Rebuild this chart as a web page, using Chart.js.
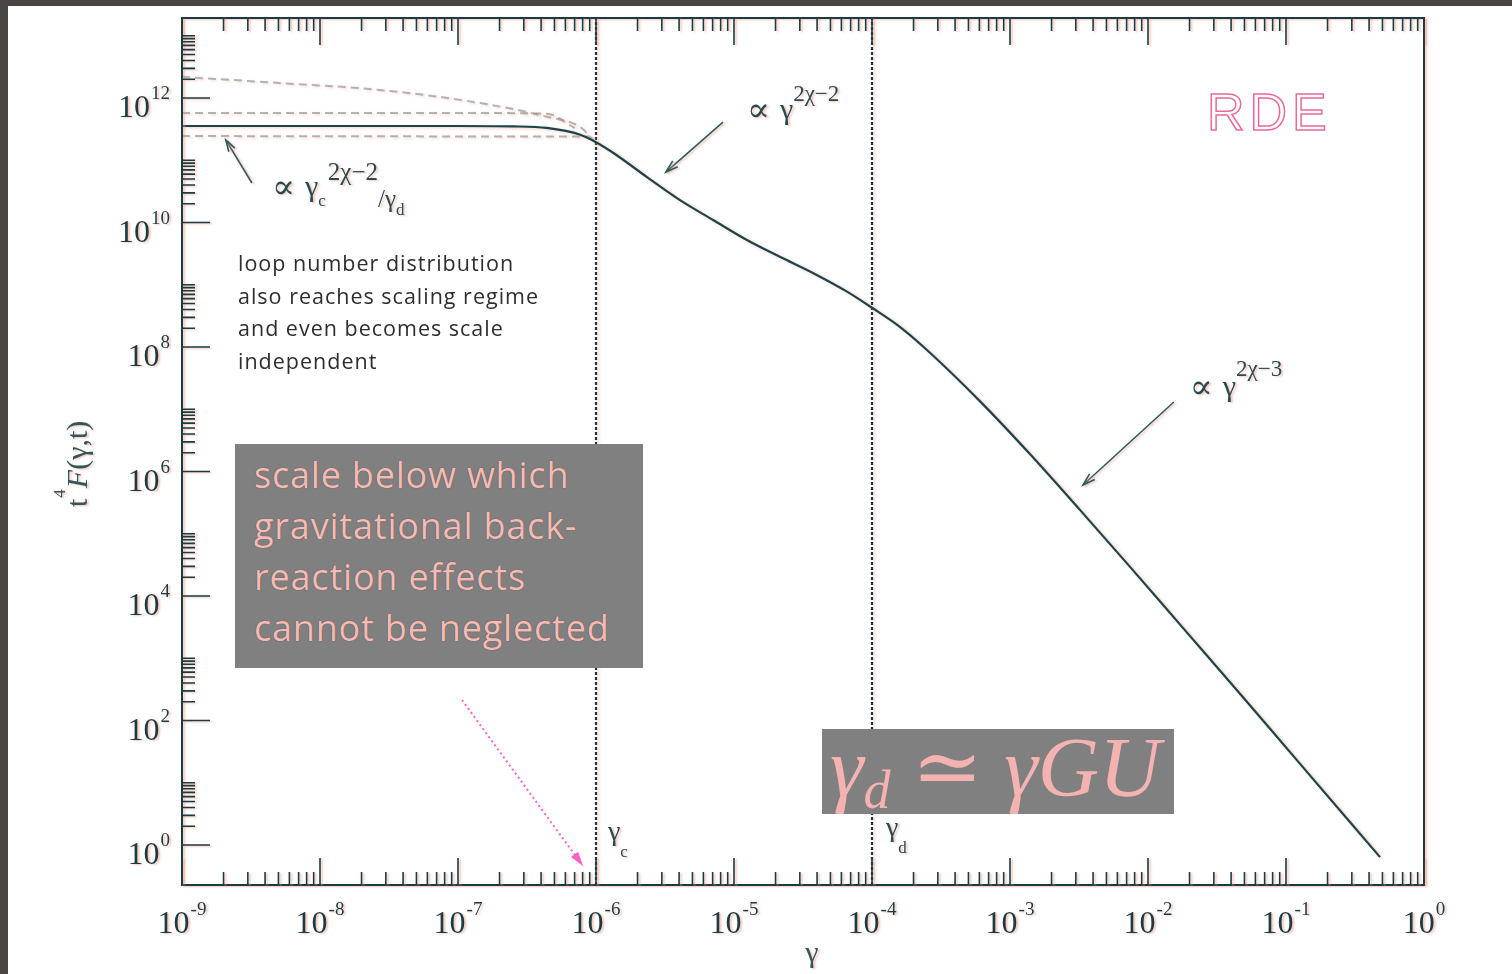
<!DOCTYPE html>
<html>
<head>
<meta charset="utf-8">
<title>Loop number distribution t^4 F(γ,t)</title>
<script src="https://cdn.jsdelivr.net/npm/chart.js@4.4.1/dist/chart.umd.min.js"></script>
<style>
  html, body { margin: 0; padding: 0; background: #fff; }
  body { width: 1512px; height: 974px; position: relative; overflow: hidden; }
  canvas { position: absolute; left: 0; top: 0; }
  #frameTop { position: absolute; left: 0; top: 0; width: 1512px; height: 6px; background: #4a4643; }
  #frameLeft { position: absolute; left: 0; top: 0; width: 8px; height: 974px; background: #4a4643; }
  .note {
    position: absolute; left: 238px; top: 247px;
    font: 21.5px/32.6px "Open Sans", "Noto Sans", sans-serif; letter-spacing: 1px;
    color: #2e2e2e; white-space: pre;
  }
  .box1 { position: absolute; left: 235px; top: 444px; width: 408px; height: 224px; background: #808080; }
  .box1 div {
    position: absolute; left: 19px; top: 5px;
    font: 36px/51px "Open Sans", "Noto Sans", sans-serif; letter-spacing: 0.8px;
    color: #f6bab4; white-space: pre; text-shadow: 0 0 1px #3c3c3c;
  }
  .box2 { position: absolute; left: 822px; top: 729px; width: 352px; height: 85px; background: #808080; }
  .box2 span.m {
    position: absolute; left: 8px; top: -4px;
    font: italic 85px/84px "Liberation Serif", "DejaVu Serif", serif;
    color: #f4b3b0; white-space: pre;
  }
  .box2 span.sub { font-size: 54px; position: relative; top: 12px; }
  .box2 span.rel { font-style: normal; }
  .rde {
    position: absolute; left: 1207px; top: 86px;
    font: 52px/52px "Liberation Sans", "DejaVu Sans", sans-serif; letter-spacing: 5px;
    color: transparent; -webkit-text-stroke: 1.5px #ea6a9e;
  }
</style>
</head>
<body>
<canvas id="c" width="1512" height="974"></canvas>
<div id="frameTop"></div>
<div id="frameLeft"></div>

<div class="note">loop number distribution
also reaches scaling regime
and even becomes scale
independent</div>

<div class="box1"><div>scale below which
gravitational back-
reaction effects
cannot be neglected</div></div>

<div class="box2"><span class="m">γ<span class="sub">d</span> <span class="rel">≃</span> γGU</span></div>

<div class="rde">RDE</div>

<script>
// ---- data: loop size γ and t^4 F(γ,t) ----
// full solution
const gammaMain = [1e-9, 1e-8, 1e-7, 2.5e-7, 4.4e-7, 7.7e-7, 1.0e-6, 1.33e-6, 2.34e-6, 4.06e-6,
                   7.05e-6, 1.24e-5, 2.15e-5, 3.73e-5, 6.59e-5, 1.0e-4, 1.6e-4, 2.63e-4, 6.07e-4,
                   1.40e-3, 3.21e-3, 7.41e-3, 1.79e-2, 4.88e-2, 0.126, 0.48];
const fMain = [3.55e11, 3.55e11, 3.55e11, 3.5e11, 3.31e11, 2.57e11, 1.95e11, 1.32e11, 5.37e10, 2.29e10,
               1.10e10, 5.25e9, 2.82e9, 1.55e9, 7.76e8, 4.27e8, 2.09e8, 8.1e7, 1.34e7,
               1.89e6, 2.42e5, 2.94e4, 3.08e3, 237, 20.3, 0.64];

// alternative small-scale behaviours (dashed)
const gammaUpper = [1e-9, 5.1e-9, 2.7e-8, 1.45e-7, 4.4e-7, 7.7e-7, 9.6e-7];
const fUpper = [2.19e12, 1.74e12, 1.35e12, 8.3e11, 5.0e11, 3.4e11, 2.1e11];
const gammaMiddle = [1e-9, 1e-7, 4.4e-7, 7.0e-7];
const fMiddle = [5.75e11, 5.75e11, 5.6e11, 3.3e11];
const gammaLower = [1e-9, 9.0e-7];
const fLower = [2.45e11, 2.4e11];

// characteristic scales
const gammaC = 1e-6;
const gammaD = 1e-4;

// axes
const xMin = 1e-9, xMax = 1;
const yMin = 0.228, yMax = 1.93e13;
const xTickExponents = [-9, -8, -7, -6, -5, -4, -3, -2, -1, 0];
const yTickExponents = [0, 2, 4, 6, 8, 10, 12];
const minorMultipliers = [2, 3, 4, 5, 6, 7, 8, 9];

// ---- styling ----
const INK = '#1c3b40';
const HALO = 'rgba(238,150,128,0.55)';
const SERIF = '"Liberation Serif", "DejaVu Serif", serif';

const pts = (xs, ys) => xs.map((v, i) => ({ x: v, y: ys[i] }));

function drawRuns(ctx, list, x, y) {
  for (const r of list) {
    ctx.font = (r.it ? 'italic ' : '') + r.s + 'px ' + SERIF;
    x += r.dx || 0;
    ctx.fillText(r.t, x, y + (r.dy || 0));
    x += ctx.measureText(r.t).width;
  }
  return x;
}

function drawPow(ctx, e, x, y, align) {
  ctx.font = '32px ' + SERIF;
  const wb = ctx.measureText('10').width;
  ctx.font = '19px ' + SERIF;
  const sup = String(e);
  const ws = ctx.measureText(sup).width;
  const total = wb + 1 + ws;
  const x0 = align === 'center' ? x - total / 2 : x - total;
  ctx.font = '32px ' + SERIF;
  ctx.fillText('10', x0, y);
  ctx.font = '19px ' + SERIF;
  ctx.fillText(sup, x0 + wb + 1, y - 18);
}

function arrow(ctx, x1, y1, x2, y2, head, filled) {
  ctx.beginPath();
  ctx.moveTo(x1, y1);
  ctx.lineTo(x2, y2);
  ctx.stroke();
  const a = Math.atan2(y2 - y1, x2 - x1);
  const h1 = [x2 - head * Math.cos(a - 0.3), y2 - head * Math.sin(a - 0.3)];
  const h2 = [x2 - head * Math.cos(a + 0.3), y2 - head * Math.sin(a + 0.3)];
  ctx.setLineDash([]);
  ctx.beginPath();
  ctx.moveTo(h1[0], h1[1]);
  ctx.lineTo(x2, y2);
  ctx.lineTo(h2[0], h2[1]);
  if (filled) { ctx.closePath(); ctx.fill(); } else { ctx.stroke(); }
}

// soft salmon fringe under the curves
const haloPlugin = {
  id: 'halo',
  beforeDatasetDraw(chart) {
    const ctx = chart.ctx;
    ctx.save();
    ctx.shadowColor = HALO;
    ctx.shadowOffsetX = 2;
    ctx.shadowOffsetY = 1;
    ctx.shadowBlur = 3;
  },
  afterDatasetDraw(chart) { chart.ctx.restore(); }
};

// frame, inward ticks, power-of-ten labels, axis titles and annotations
const decorPlugin = {
  id: 'decor',
  afterDatasetsDraw(chart) {
    const { ctx, chartArea: a, scales: { x, y } } = chart;
    const P = (g, f) => [x.getPixelForValue(g), y.getPixelForValue(f)];
    ctx.save();
    ctx.shadowColor = HALO;
    ctx.shadowOffsetX = 2;
    ctx.shadowOffsetY = 1;
    ctx.shadowBlur = 2;
    ctx.strokeStyle = INK;
    ctx.fillStyle = INK;

    // frame
    ctx.lineWidth = 2;
    ctx.strokeRect(a.left, a.top, a.right - a.left, a.bottom - a.top);

    // x ticks (bottom pointing up, top pointing down)
    ctx.lineWidth = 1.6;
    ctx.beginPath();
    for (const e of xTickExponents) {
      const base = Math.pow(10, e);
      const px = x.getPixelForValue(base);
      ctx.moveTo(px, a.bottom); ctx.lineTo(px, a.bottom - 27);
      ctx.moveTo(px, a.top); ctx.lineTo(px, a.top + 27);
      if (e < 0) {
        for (const m of minorMultipliers) {
          const q = x.getPixelForValue(m * base);
          ctx.moveTo(q, a.bottom); ctx.lineTo(q, a.bottom - 13);
          ctx.moveTo(q, a.top); ctx.lineTo(q, a.top + 13);
        }
      }
    }
    // y ticks (left, pointing right)
    for (const e of yTickExponents) {
      const base = Math.pow(10, e);
      const py = y.getPixelForValue(base);
      ctx.moveTo(a.left, py); ctx.lineTo(a.left + 28, py);
      for (const m of [...minorMultipliers, 10]) {
        const q = y.getPixelForValue(m * base);
        if (q < a.top) continue;
        ctx.moveTo(a.left, q); ctx.lineTo(a.left + 13, q);
      }
    }
    ctx.stroke();

    // tick labels
    ctx.textAlign = 'left';
    ctx.textBaseline = 'alphabetic';
    for (const e of xTickExponents) {
      drawPow(ctx, e, x.getPixelForValue(Math.pow(10, e)), 933, 'center');
    }
    for (const e of yTickExponents) {
      drawPow(ctx, e, a.left - 12, y.getPixelForValue(Math.pow(10, e)) + 19, 'right');
    }

    // axis titles
    ctx.fillStyle = '#34555a';
    ctx.font = '30px ' + SERIF;
    ctx.textAlign = 'center';
    ctx.fillText('γ', (a.left + a.right) / 2 + 9, 962);
    ctx.textAlign = 'left';
    ctx.save();
    ctx.translate(87, 507);
    ctx.rotate(-Math.PI / 2);
    drawRuns(ctx, [
      { t: 't', s: 30 },
      { t: '4', s: 17, dy: -22, dx: 1 },
      { t: 'F', s: 30, it: true, dx: 1 },
      { t: '(γ,t)', s: 30 }
    ], 0, 0);
    ctx.restore();

    // vertical marker labels
    ctx.fillStyle = '#2a4a50';
    let [cx, cy] = P(gammaC, 1.2);
    drawRuns(ctx, [{ t: 'γ', s: 28 }, { t: 'c', s: 17, dy: 17 }], cx + 12, cy);
    [cx, cy] = P(gammaD, 1.4);
    drawRuns(ctx, [{ t: 'γ', s: 28 }, { t: 'd', s: 17, dy: 17 }], cx + 14, cy);

    // power-law annotations
    ctx.fillStyle = '#2a4a50';
    ctx.strokeStyle = '#2a5a62';
    ctx.lineWidth = 1.6;
    let p = P(4.49e-9, 2.67e10);
    drawRuns(ctx, [
      { t: '∝', s: 34, dy: 2 },
      { t: 'γ', s: 30, dx: 10 },
      { t: 'c', s: 17, dy: 10 },
      { t: '2χ−2', s: 25, dy: -16, dx: 2 },
      { t: '/γ', s: 25, dy: 11, dx: 0 },
      { t: 'd', s: 17, dy: 19 }
    ], p[0], p[1]);
    let t1 = P(3.21e-9, 4.32e10), h1 = P(2.08e-9, 2.11e11);
    arrow(ctx, t1[0], t1[1], h1[0], h1[1], 12, false);

    p = P(1.24e-5, 4.6e11);
    drawRuns(ctx, [
      { t: '∝', s: 34, dy: 2 },
      { t: 'γ', s: 30, dx: 10 },
      { t: '2χ−2', s: 23, dy: -18 }
    ], p[0], p[1]);
    t1 = P(8.32e-6, 4.11e11); h1 = P(3.21e-6, 6.47e10);
    arrow(ctx, t1[0], t1[1], h1[0], h1[1], 13, false);

    p = P(2.01e-2, 1.63e7);
    drawRuns(ctx, [
      { t: '∝', s: 34, dy: 2 },
      { t: 'γ', s: 30, dx: 10 },
      { t: '2χ−3', s: 23, dy: -20 }
    ], p[0], p[1]);
    t1 = P(1.54e-2, 1.31e7); h1 = P(3.38e-3, 6.07e5);
    arrow(ctx, t1[0], t1[1], h1[0], h1[1], 13, false);
    ctx.restore();

    // pink dotted pointer to γc
    ctx.save();
    ctx.strokeStyle = '#ff5fc8';
    ctx.fillStyle = '#ff5fc8';
    ctx.lineWidth = 2;
    ctx.setLineDash([2, 3]);
    t1 = P(1.07e-7, 213); h1 = P(8.05e-7, 0.46);
    arrow(ctx, t1[0], t1[1], h1[0], h1[1], 15, true);
    ctx.restore();
  }
};

const dashedStyle = {
  borderColor: 'rgba(150,150,150,0.7)',
  borderWidth: 2,
  borderDash: [8, 5],
  cubicInterpolationMode: 'monotone'
};
const markerStyle = {
  borderColor: '#1a363b',
  borderWidth: 2.2,
  borderDash: [3, 2]
};

new Chart(document.getElementById('c'), {
  type: 'line',
  data: {
    datasets: [
      {
        label: 'full solution',
        data: pts(gammaMain, fMain),
        borderColor: '#1b454b',
        borderWidth: 2.2,
        cubicInterpolationMode: 'monotone'
      },
      { label: 'upper', data: pts(gammaUpper, fUpper), ...dashedStyle },
      { label: 'middle', data: pts(gammaMiddle, fMiddle), ...dashedStyle },
      { label: 'lower', data: pts(gammaLower, fLower), ...dashedStyle },
      { label: 'γc', data: pts([gammaC, gammaC], [yMin, yMax]), ...markerStyle },
      { label: 'γd', data: pts([gammaD, gammaD], [yMin, yMax]), ...markerStyle }
    ]
  },
  options: {
    responsive: false,
    animation: false,
    devicePixelRatio: 1,
    layout: { padding: { left: 182, top: 18, right: 88, bottom: 89 } },
    elements: { point: { radius: 0, hoverRadius: 0 } },
    plugins: { legend: { display: false }, tooltip: { enabled: false } },
    events: [],
    scales: {
      x: { type: 'logarithmic', min: xMin, max: xMax, display: false },
      y: { type: 'logarithmic', min: yMin, max: yMax, display: false }
    }
  },
  plugins: [haloPlugin, decorPlugin]
});
</script>
</body>
</html>
